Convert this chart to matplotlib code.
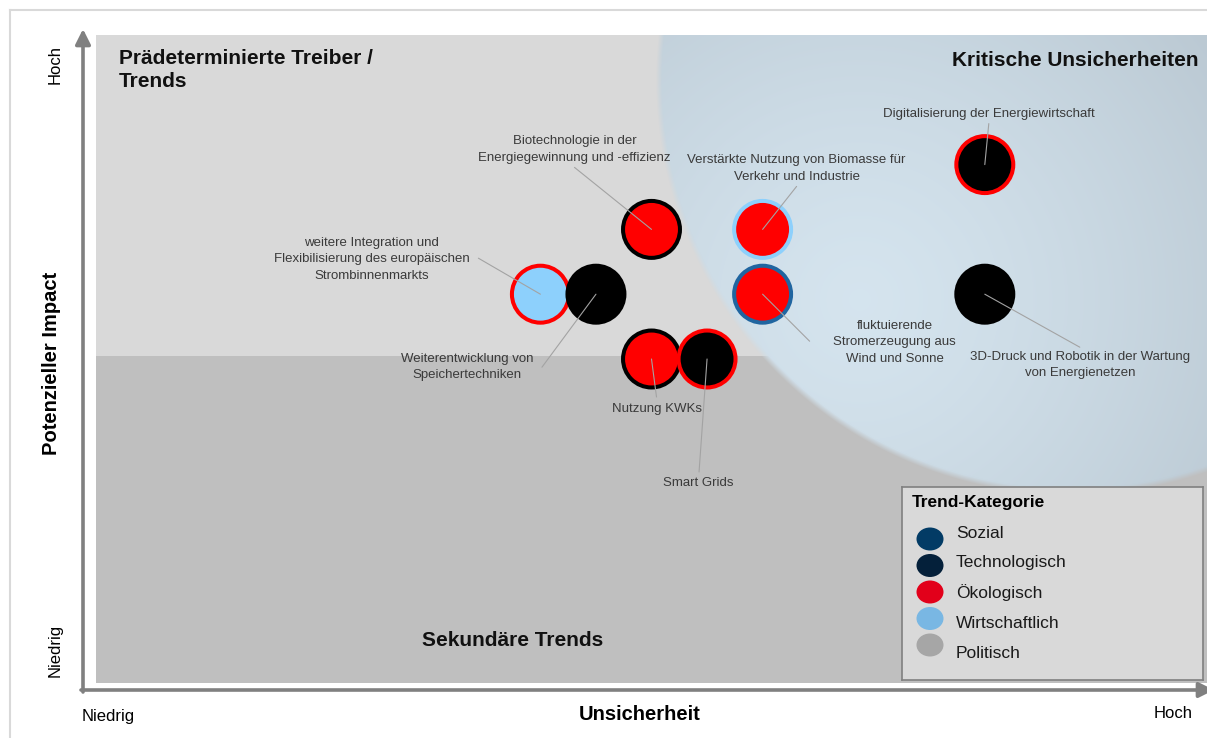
import numpy as np
import matplotlib
matplotlib.use('Agg')
import matplotlib.pyplot as plt
from matplotlib.patches import Ellipse, FancyArrowPatch
from matplotlib.lines import Line2D

plt.rcParams['font.family'] = ['Liberation Sans', 'DejaVu Sans']

# --- Daten: Trends (Unsicherheit x, Impact y, Haupt-/Nebenkategorie) ---
trends = [
    'Digitalisierung der Energiewirtschaft',
    'Biotechnologie in der\nEnergiegewinnung und -effizienz',
    'Verstärkte Nutzung von Biomasse für\nVerkehr und Industrie',
    'weitere Integration und\nFlexibilisierung des europäischen\nStrombinnenmarkts',
    'Weiterentwicklung von\nSpeichertechniken',
    'fluktuierende\nStromerzeugung aus\nWind und Sonne',
    '3D-Druck und Robotik in der Wartung\nvon Energienetzen',
    'Nutzung KWKs',
    'Smart Grids',
]
unsicherheit = [8.0, 5.0, 6.0, 4.0, 4.5, 6.0, 8.0, 5.0, 5.5]
impact = [8.0, 7.0, 7.0, 6.0, 6.0, 6.0, 6.0, 5.0, 5.0]
kategorie = ['Technologisch', 'Ökologisch', 'Ökologisch', 'Wirtschaftlich', 'Technologisch',
             'Ökologisch', 'Technologisch', 'Ökologisch', 'Technologisch']
nebenkategorie = ['Ökologisch', 'Technologisch', 'Wirtschaftlich', 'Ökologisch', None,
                  'Sozial', None, 'Technologisch', 'Ökologisch']

legend_kategorien = ['Sozial', 'Technologisch', 'Ökologisch', 'Wirtschaftlich', 'Politisch']
legend_farben = ['#023b65', '#04203a', '#e2001a', '#79b7e3', '#a6a6a6']

# Kreisfarben je Kategorie (Fuellung = Hauptkategorie, Rand = Nebenkategorie)
kreis_farbe = {'Technologisch': '#000000', 'Ökologisch': '#ff0000',
               'Wirtschaftlich': '#8dd0fc', 'Sozial': '#2065a0'}

# Beschriftungs-Versatz in Pixel (Linienende, Textmitte) relativ zum Kreis
linie_px = [(4, 41), (-77, 62), (34, 43), (-62, 36), (-54, -73), (47, -47), (95, -53), (5, -38), (-8, -113)]
text_px = [(4, 51), (-77, 80), (34, 61), (-169, 35), (-129, -73), (132, -48), (95, -71), (5, -50), (-9, -124)]

W, H = 1207, 738


def fpx(x, y):
    return x / W, 1 - y / H


fig = plt.figure(figsize=(W / 100, H / 100), dpi=100, facecolor='white')

# --- Hauptachse ---
ax = fig.add_axes([96 / W, 1 - 683 / H, (W - 96) / W, 648 / H])
ax.set_xlim(0, 10)
ax.set_ylim(0, 10)
ax.axis('off')
ax.axhspan(5.05, 10, color='#d9d9d9', zorder=0, lw=0)
ax.axhspan(0, 5.05, color='#bfbfbf', zorder=0, lw=0)

# blauer Bereich "kritische Unsicherheiten" (radialer Verlauf)
nx, ny = W - 96, 648
gx = 96 + np.arange(nx) + 0.5
gy = 35 + np.arange(ny) + 0.5
GX, GY = np.meshgrid(gx, gy)
d = np.hypot(GX - 1071, GY - 80)
alpha = np.clip((412 - d) / 6 + 0.5, 0, 1)
t = np.clip(np.hypot(GX - 860, GY - 300) / 430, 0, 1) ** 1.3
hell = np.array([0.835, 0.895, 0.935])
dunkel = np.array([0.735, 0.790, 0.830])
img = np.zeros((ny, nx, 4))
img[..., :3] = hell * (1 - t[..., None]) + dunkel * t[..., None]
img[..., 3] = alpha
ax.imshow(img, extent=(0, 10, 0, 10), origin='upper', aspect='auto', zorder=1,
          interpolation='bilinear')

# --- Kreise ---
faces = [kreis_farbe[k] for k in kategorie]
edges = [kreis_farbe[n] if n else kreis_farbe[k] for k, n in zip(kategorie, nebenkategorie)]
ax.scatter(unsicherheit, impact, s=1681, c=faces, edgecolors=edges, linewidths=2.9, zorder=3)

for i, name in enumerate(trends):
    lx, ly = linie_px[i]
    tx, ty = text_px[i]
    ax.annotate('', xy=(unsicherheit[i], impact[i]), xytext=(lx * 0.72, ly * 0.72),
                textcoords='offset points',
                arrowprops=dict(arrowstyle='-', color='#a3a3a3', lw=0.8, shrinkA=0, shrinkB=0),
                zorder=4)
    ax.annotate(name, xy=(unsicherheit[i], impact[i]), xytext=(tx * 0.72, ty * 0.72),
                textcoords='offset points', ha='center', va='center', fontsize=9.5,
                color='#3a3a3a', linespacing=1.5, zorder=5)

# --- Quadranten-Titel ---
fig.text(*fpx(119, 49), 'Prädeterminierte Treiber /\nTrends', fontsize=15, fontweight='bold',
         ha='left', va='top', linespacing=1.25, color='#111111')
fig.text(*fpx(1199, 61), 'Kritische Unsicherheiten', fontsize=15, fontweight='bold',
         ha='right', va='center', color='#111111')
fig.text(*fpx(513, 641), 'Sekundäre Trends', fontsize=15, fontweight='bold',
         ha='center', va='center', color='#111111')

# --- Achsen (Pfeile) und Beschriftung ---
fig.add_artist(Line2D([10 / W, 1], [1 - 10 / H, 1 - 10 / H], color='#d9d9d9', lw=1.5))
fig.add_artist(Line2D([10 / W, 10 / W], [0, 1 - 10 / H], color='#d9d9d9', lw=1.5))
pfeil = dict(transform=fig.transFigure, arrowstyle='-|>,head_length=9,head_width=4.5',
             color='#808080', lw=2.6, mutation_scale=1, shrinkA=0, shrinkB=0)
fig.add_artist(FancyArrowPatch(fpx(83, 692), fpx(83, 29), **pfeil))
fig.add_artist(FancyArrowPatch(fpx(81, 690), fpx(1214, 690), **pfeil))

fig.text(*fpx(55, 65), 'Hoch', rotation=90, fontsize=12, ha='center', va='center')
fig.text(*fpx(55, 650), 'Niedrig', rotation=90, fontsize=12, ha='center', va='center')
fig.text(*fpx(52, 363), 'Potenzieller Impact', rotation=90, fontsize=14.5, fontweight='bold',
         ha='center', va='center')
fig.text(*fpx(82, 717), 'Niedrig', fontsize=12, ha='left', va='center')
fig.text(*fpx(640, 714), 'Unsicherheit', fontsize=14.5, fontweight='bold', ha='center', va='center')
fig.text(*fpx(1173, 713), 'Hoch', fontsize=12, ha='center', va='center')

# --- Legende ---
axl = fig.add_axes([902 / W, 1 - 680 / H, 301 / W, 193 / H])
axl.set_xlim(0, 301)
axl.set_ylim(193, 0)
axl.set_facecolor('#d9d9d9')
axl.set_xticks([])
axl.set_yticks([])
for sp in axl.spines.values():
    sp.set_color('#808080')
    sp.set_linewidth(1.2)
axl.text(10, 16, 'Trend-Kategorie', fontsize=12.5, fontweight='bold', va='center', ha='left')
for i, (kat, col) in enumerate(zip(legend_kategorien, legend_farben)):
    axl.add_patch(Ellipse((28, 52 + 26.5 * i), 27, 23, color=col, lw=0))
    axl.text(54, 46 + 30 * i, kat, fontsize=12.5, va='center', ha='left', color='#1a1a1a')

fig.savefig('out.png', dpi=100)
